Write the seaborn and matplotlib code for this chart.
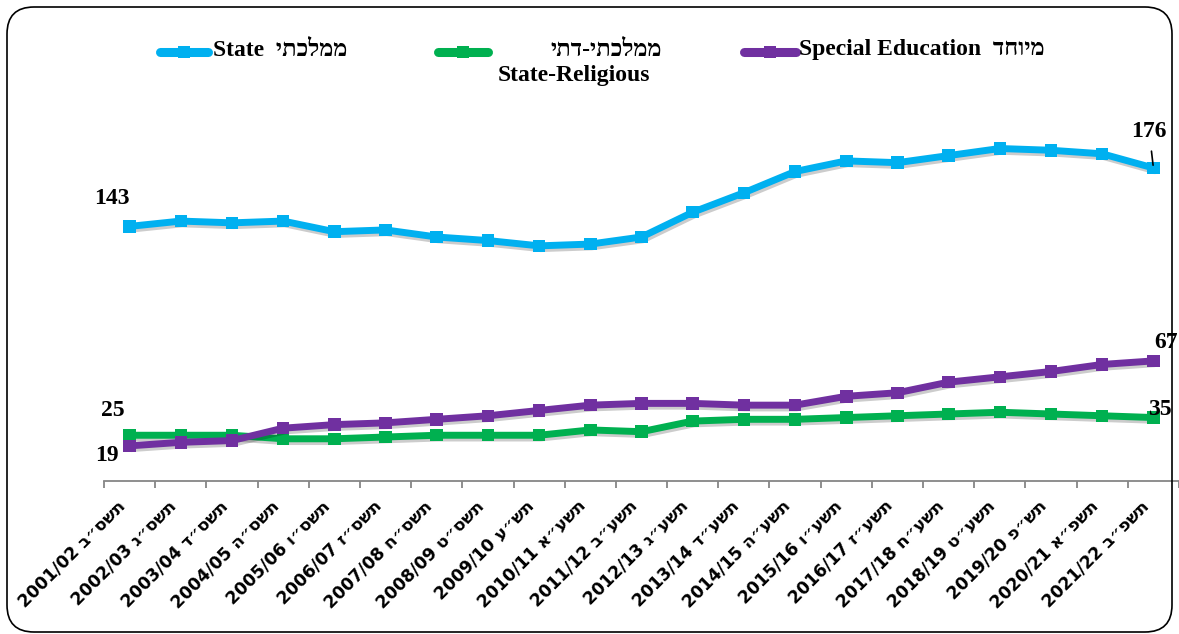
import matplotlib
matplotlib.use("Agg")
import matplotlib.pyplot as plt
import matplotlib.patheffects as pe
import matplotlib.transforms as mtransforms
from matplotlib.lines import Line2D
from matplotlib.patches import FancyBboxPatch
import numpy as np
import pandas as pd
import seaborn as sns


# ============================================================
# DATA
# ============================================================
years = ["2001/02", "2002/03", "2003/04", "2004/05", "2005/06", "2006/07",
         "2007/08", "2008/09", "2009/10", "2010/11", "2011/12", "2012/13",
         "2013/14", "2014/15", "2015/16", "2016/17", "2017/18", "2018/19",
         "2019/20", "2020/21", "2021/22"]
heb_years = ["תשס״ב", "תשס״ג", "תשס״ד", "תשס״ה", "תשס״ו", "תשס״ז",
             "תשס״ח", "תשס״ט", "תש״ע", "תשע״א", "תשע״ב", "תשע״ג",
             "תשע״ד", "תשע״ה", "תשע״ו", "תשע״ז", "תשע״ח", "תשע״ט",
             "תש״פ", "תשפ״א", "תשפ״ב"]

state           = [143, 146, 145, 146, 140, 141, 137, 135, 132, 133, 137,
                   151, 162, 174, 180, 179, 183, 187, 186, 184, 176]
state_religious = [25, 25, 25, 23, 23, 24, 25, 25, 25, 28, 27,
                   33, 34, 34, 35, 36, 37, 38, 37, 36, 35]
special_ed      = [19, 21, 22, 29, 31, 32, 34, 36, 39, 42, 43,
                   43, 42, 42, 47, 49, 55, 58, 61, 65, 67]

sectors = ["State", "State-Religious", "Special Education"]
colors  = {"State": "#00B0F0", "State-Religious": "#00B050",
           "Special Education": "#7030A0"}


def rtl(s):
    # matplotlib has no bidi support: reverse Hebrew so it reads right-to-left
    return s[::-1]


# ============================================================
# FIGURE
# ============================================================
sns.set_theme(style="white")
plt.rcParams["font.family"] = ["Liberation Serif", "DejaVu Sans"]

W, H = 1179, 634
fig = plt.figure(figsize=(W / 100, H / 100), dpi=100)
fig.patch.set_facecolor("white")

ax_left, ax_bottom, ax_top = 104, 481, 90
ax = fig.add_axes([ax_left / W, (H - ax_bottom) / H,
                   1 - ax_left / W, (ax_bottom - ax_top) / H])

df = pd.DataFrame({
    "year": years,
    "State": state,
    "State-Religious": state_religious,
    "Special Education": special_ed,
})
long_df = df.melt(id_vars="year", var_name="sector", value_name="students")

sns.lineplot(data=long_df, x="year", y="students", hue="sector",
             hue_order=sectors, palette=colors, sort=False,
             linewidth=5, marker="s", markersize=9, markeredgewidth=0,
             legend=False, ax=ax)

shadow = [pe.SimpleLineShadow(offset=(1, -2), shadow_color="black", alpha=0.2),
          pe.Normal()]
for line in ax.lines:
    line.set_path_effects(shadow)
    line.set_solid_joinstyle("round")

ax.set_xlim(-0.5, -0.5 + (W - ax_left) / 51.35)
ax.set_ylim(-0.85, -0.85 + (ax_bottom - ax_top) / 1.77)
ax.set_facecolor("none")

for side in ["left", "top", "right"]:
    ax.spines[side].set_visible(False)
ax.spines["bottom"].set_color("#868686")
ax.spines["bottom"].set_linewidth(1.3)
ax.set_yticks([])
ax.set_xlabel("")
ax.set_ylabel("")

ax.set_xticks(range(len(years)))
ax.set_xticklabels([f"{y} {rtl(h)}" for y, h in zip(years, heb_years)],
                   rotation=45, ha="right", va="center", rotation_mode="anchor",
                   fontsize=12.3, fontweight="bold", color="black",
                   family=["DejaVu Sans", "Liberation Sans"])
ax.tick_params(axis="x", which="major", length=0, pad=16)
ax.set_xticks(np.arange(-0.5, len(years), 1), minor=True)
ax.tick_params(axis="x", which="minor", length=5, width=1.3, color="#868686",
               direction="out", bottom=True)
offset = mtransforms.ScaledTranslation(-5 / 72, 0, fig.dpi_scale_trans)
for lab in ax.get_xticklabels():
    lab.set_transform(lab.get_transform() + offset)

# ============================================================
# DATA LABELS
# ============================================================
lab_kw = dict(textcoords="offset points", ha="center", va="center",
              fontsize=17, fontweight="bold", color="black")
last = len(years) - 1
ax.annotate(str(state[0]), xy=(0, state[0]), xytext=(-13, 20), **lab_kw)
ax.annotate(str(state[last]), xy=(last, state[last]), xytext=(-3, 26),
            arrowprops=dict(arrowstyle="-", color="black", lw=1.2,
                            shrinkA=4, shrinkB=2), **lab_kw)
ax.annotate(str(state_religious[0]), xy=(0, state_religious[0]),
            xytext=(-12, 18), **lab_kw)
ax.annotate(str(special_ed[0]), xy=(0, special_ed[0]), xytext=(-16, -7), **lab_kw)
ax.annotate(str(special_ed[last]), xy=(last, special_ed[last]),
            xytext=(9, 13), **lab_kw)
ax.annotate(str(state_religious[last]), xy=(last, state_religious[last]),
            xytext=(5, 6), **lab_kw)

# ============================================================
# LEGEND (drawn by hand to match the bilingual layout)
# ============================================================
def fx(px):
    return px / W


def fy(py):
    return (H - py) / H


def legend_handle(x1, x2, y, color):
    xm = (x1 + x2) / 2
    fig.add_artist(Line2D([fx(x1), fx(xm), fx(x2)], [fy(y)] * 3,
                          transform=fig.transFigure, color=color, lw=6.5,
                          solid_capstyle="round", marker="s", markersize=9,
                          markeredgewidth=0, markevery=[1]))


leg_kw = dict(fontsize=17, fontweight="bold", color="black", va="center",
              transform=fig.transFigure)
legend_handle(160, 208, 52, colors["State"])
fig.text(fx(213), fy(50), "State  " + rtl("ממלכתי"), ha="left", **leg_kw)

legend_handle(438, 488, 52, colors["State-Religious"])
fig.text(fx(662), fy(50), rtl("ממלכתי-דתי"), ha="right", **leg_kw)
fig.text(fx(574), fy(76), "State-Religious", ha="center", **leg_kw)

legend_handle(744, 796, 52, colors["Special Education"])
fig.text(fx(799), fy(50), "Special Education  " + rtl("מיוחד"), ha="left", **leg_kw)

# rounded chart frame
frame = FancyBboxPatch((0.07, 0.02), 11.65, 6.25,
                       boxstyle="round,pad=0,rounding_size=0.27",
                       transform=fig.dpi_scale_trans, facecolor="none",
                       edgecolor="black", linewidth=1.2)
fig.add_artist(frame)

fig.savefig("out.png", dpi=100)
